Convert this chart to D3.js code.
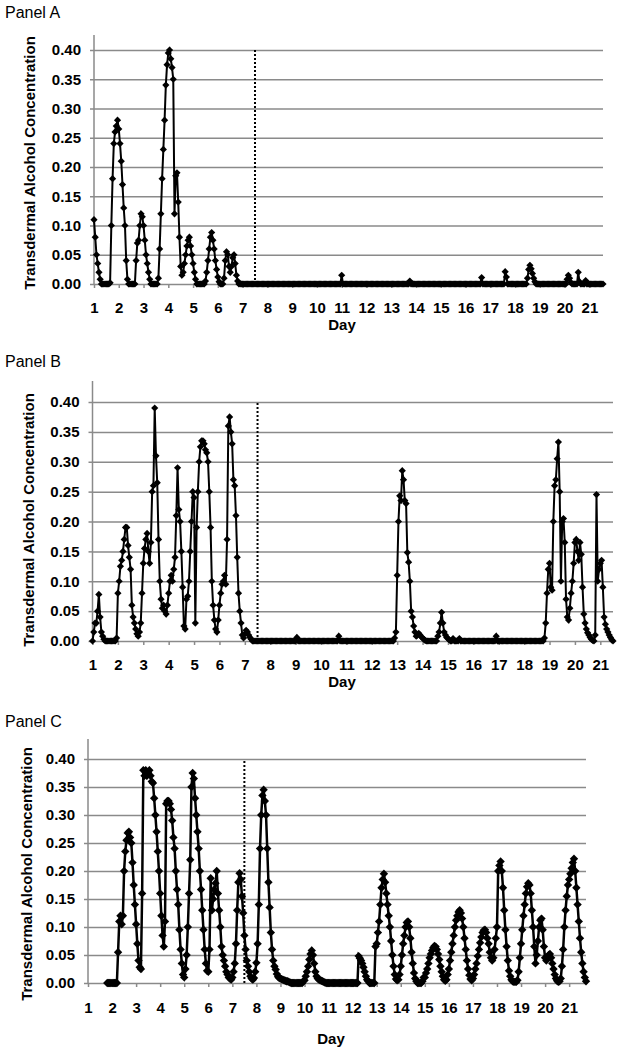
<!DOCTYPE html>
<html>
<head>
<meta charset="utf-8">
<script src="https://cdn.jsdelivr.net/npm/d3@7"></script>
<style>
  body { margin: 0; background: #fff; }
  svg text { font-family: "Liberation Sans", Arial, sans-serif; fill: #000; }
</style>
</head>
<body>
<svg id="chart" width="619" height="1050"></svg>
<script>
// readings every 0.05 day (one line per day), starting at day 1
const firstDay = 1;
const sampleStepDays = 0.05;
const dividerDay = 7.5;

const dayLabels = [1, 2, 3, 4, 5, 6, 7, 8, 9, 10, 11, 12, 13, 14, 15, 16, 17, 18, 19, 20, 21];
const tacTicks = [0, 0.05, 0.10, 0.15, 0.20, 0.25, 0.30, 0.35, 0.40];

const tacPanelA = [
  .11,.08,.05,.035,.02,.008,0,0,0,0,0,0,0,.002,.1,.18,.24,.26,.27,.28,
  .265,.24,.21,.17,.13,.1,.04,.008,0,0,0,0,0,0,.04,.07,.075,.1,.12,.115,
  .1,.075,.05,.035,.02,.008,0,0,0,0,0,0,.01,.06,.12,.18,.23,.28,.34,.375,
  .395,.4,.385,.37,.35,.12,.185,.19,.14,.08,.03,.015,.02,.035,.05,.065,.075,.08,.065,.05,
  .035,.02,.008,0,0,0,0,0,0,0,.005,.02,.04,.06,.08,.088,.075,.06,.04,.025,
  .012,.004,0,0,0,.01,.04,.055,.05,.03,.02,.03,.045,.05,.035,.015,.005,0,0,0,
  0,0,0,0,0,0,0,0,0,0,0,0,0,0,0,0,0,0,0,0,
  0,0,0,0,0,0,0,0,0,0,0,0,0,0,0,0,0,0,0,0,
  0,0,0,0,0,0,0,0,0,0,0,0,0,0,0,0,0,0,0,0,
  0,0,0,0,0,0,0,0,0,0,0,0,0,0,0,0,0,0,0,0,
  .015,0,0,0,0,0,0,0,0,0,0,0,0,0,0,0,0,0,0,0,
  0,0,0,0,0,0,0,0,0,0,0,0,0,0,0,0,0,0,0,0,
  0,0,0,0,0,0,0,0,0,0,0,0,0,0,0,.005,0,0,0,0,
  0,0,0,0,0,0,0,0,0,0,0,0,0,0,0,0,0,0,0,0,
  0,0,0,0,0,0,0,0,0,0,0,0,0,0,0,0,0,0,0,0,
  0,0,0,0,0,0,0,0,0,0,0,0,0,.011,0,0,0,0,0,0,
  0,0,0,0,0,0,0,0,0,0,0,0,.021,.012,0,0,0,0,0,0,
  0,0,0,0,0,0,0,0,0,0,.01,.025,.032,.026,.018,.01,.004,0,0,0,
  0,0,0,0,0,0,0,0,0,0,0,0,0,0,0,0,0,0,0,0,
  0,0,.008,.015,.01,.003,0,0,0,0,0,.02,.004,0,0,0,0,.006,0,0,
  0,0,0,0,0,0,0,0,0,0,0,0
];

const tacPanelB = [
  0,.015,.03,.03,.05,.078,.04,.015,.008,.003,0,0,0,0,0,0,0,0,0,.005,
  .08,.1,.125,.135,.15,.17,.19,.19,.16,.14,.12,.06,.04,.03,.02,.012,.008,.015,.03,.08,
  .13,.155,.17,.18,.15,.13,.165,.25,.26,.39,.31,.265,.17,.1,.07,.055,.06,.05,.045,.06,
  .08,.1,.11,.1,.12,.14,.21,.29,.22,.2,.15,.09,.025,.02,.07,.075,.1,.15,.2,.25,
  .24,.03,.19,.25,.3,.325,.335,.335,.33,.32,.315,.3,.25,.19,.1,.06,.035,.02,.015,.035,
  .06,.08,.095,.1,.11,.095,.17,.36,.375,.35,.33,.27,.26,.21,.14,.08,.05,.03,.01,.005,
  .012,.018,.015,.01,.006,.003,0,0,0,0,0,0,0,0,0,0,0,0,0,0,
  0,0,0,0,0,0,0,0,0,0,0,0,0,0,0,0,0,0,0,0,
  0,.006,0,0,0,0,0,0,0,0,0,0,0,0,0,0,0,0,0,0,
  0,0,0,0,0,0,0,0,0,0,0,0,0,0,.008,0,0,0,0,0,
  0,0,0,0,0,0,0,0,0,0,0,0,0,0,0,0,0,0,0,0,
  0,0,0,0,0,0,0,0,0,0,0,0,0,0,0,0,0,0,.005,.015,
  .11,.2,.243,.235,.285,.27,.235,.23,.148,.132,.1,.05,.04,.025,.015,.008,.01,.013,.01,.007,
  .005,.003,.001,0,0,0,0,0,0,0,0,0,.008,.015,.03,.048,.03,.015,.01,.006,
  .004,.002,0,0,.004,0,0,0,0,.004,0,0,0,0,0,0,0,0,0,0,
  0,0,0,0,0,0,0,0,0,0,0,0,0,0,0,0,0,0,.008,0,
  0,0,0,0,0,0,0,0,0,0,0,0,0,0,0,0,0,0,0,0,
  0,0,0,0,0,0,0,0,0,0,0,0,0,0,0,0,.005,.03,.08,.12,
  .13,.09,.085,.2,.26,.27,.305,.333,.25,.1,.2,.205,.165,.07,.04,.035,.055,.08,.1,.13,
  .165,.17,.15,.135,.165,.145,.09,.045,.03,.02,.014,.01,.006,.003,.001,0,.01,.245,.1,.12,
  .13,.135,.09,.04,.028,.02,.015,.01,.006,.002,0
];

const tacPanelC = [
  null,null,null,null,null,null,null,null,null,null,null,null,null,null,null,null,0,0,0,0,
  0,0,0,0,0,.055,.11,.12,.105,.12,.2,.235,.255,.268,.27,.26,.25,.215,.175,.14,
  .105,.07,.04,.028,.025,.16,.38,.37,.38,.37,.375,.38,.37,.36,.357,.33,.3,.27,.235,.2,
  .16,.12,.085,.065,.11,.32,.325,.325,.32,.31,.29,.26,.24,.2,.167,.14,.095,.06,.035,.015,
  .01,.025,.05,.1,.16,.22,.35,.375,.365,.33,.3,.27,.24,.2,.167,.13,.095,.06,.035,.022,
  .02,.06,.187,.13,.15,.167,.178,.2,.16,.13,.1,.065,.05,.04,.03,.02,.015,.01,.008,.006,
  .01,.02,.035,.07,.13,.18,.196,.185,.155,.125,.085,.06,.04,.03,.02,.012,.008,.006,.009,.02,
  .036,.07,.14,.24,.3,.335,.345,.325,.3,.24,.18,.135,.09,.06,.04,.03,.024,.016,.011,.009,
  .008,.007,.006,.005,.004,.003,.003,.002,.001,0,0,0,0,0,0,0,0,0,0,.003,
  .005,.012,.02,.03,.042,.052,.058,.05,.035,.02,.012,.008,.006,.005,.004,.003,.002,.001,0,0,
  0,0,0,0,0,0,0,0,0,0,0,0,0,0,0,0,0,0,0,0,
  0,0,0,0,0,.048,.044,.04,.035,.028,.02,.012,.006,.003,0,0,0,0,0,.065,
  .07,.09,.11,.14,.17,.185,.195,.18,.16,.14,.12,.1,.075,.05,.03,.015,.007,.005,.006,.015,
  .03,.05,.07,.085,.1,.108,.11,.1,.08,.055,.035,.018,.008,.003,0,0,0,0,.003,.01,
  .01,.018,.025,.035,.045,.052,.058,.063,.066,.065,.06,.052,.042,.03,.02,.012,.006,.004,.006,.015,
  .025,.04,.055,.07,.085,.1,.112,.12,.127,.13,.125,.115,.1,.08,.06,.04,.025,.014,.007,.005,
  .008,.015,.025,.035,.048,.06,.072,.082,.09,.094,.095,.09,.08,.07,.055,.045,.04,.045,.06,.08,
  .1,.2,.21,.217,.2,.17,.13,.095,.065,.04,.022,.012,.006,.003,.002,.002,.002,.005,.02,.045,
  .07,.095,.12,.14,.16,.172,.178,.175,.16,.13,.1,.065,.035,.05,.075,.1,.112,.115,.095,.065,
  .045,.04,.045,.05,.052,.045,.035,.025,.015,.008,.004,.002,.003,.008,.03,.06,.1,.13,.155,.175,
  .185,.195,.205,.215,.222,.2,.17,.14,.11,.08,.055,.035,.02,.01,.003
];

// layout of each panel on the page
const panels = [
  {label: 'Panel A', values: tacPanelA, left: 94, right: 603, top: 50, base: 284, axisTop: 35,
   titleY: 18, yTitleX: 35, yTitleY: 163, dayX: 342, dayY: 330, marker: 3.6, lineW: 2, tickPad: 14},
  {label: 'Panel B', values: tacPanelB, left: 92.5, right: 613, top: 402, base: 641, axisTop: 381,
   titleY: 367, yTitleX: 34, yTitleY: 520, dayX: 342, dayY: 687, marker: 3.6, lineW: 2, tickPad: 14},
  {label: 'Panel C', values: tacPanelC, left: 88, right: 586, top: 759, base: 983, axisTop: 739,
   titleY: 727, yTitleX: 32, yTitleY: 874, dayX: 331, dayY: 1044, marker: 4.2, lineW: 2.5, tickPad: 15}
];

const svg = d3.select('#chart');
const gridColor = '#8a8a8a';

panels.forEach(p => {
  const points = p.values.map((v, i) => ({day: firstDay + i * sampleStepDays, tac: v}));
  const lastDay = points[points.length - 1].day;

  const x = d3.scaleLinear().domain([firstDay, lastDay]).range([p.left, p.right]);
  const y = d3.scaleLinear().domain([0, 0.4]).range([p.base, p.top]);

  const g = svg.append('g');

  // panel title
  g.append('text')
    .attr('x', 5)
    .attr('y', p.titleY)
    .style('font-size', '16px')
    .text(p.label);

  // horizontal gridlines
  g.append('g')
    .attr('transform', `translate(${p.left},0)`)
    .call(d3.axisLeft(y).tickValues(tacTicks).tickSize(-(p.right - p.left)).tickFormat(''))
    .call(a => a.select('.domain').remove())
    .call(a => a.selectAll('line').attr('stroke', gridColor).attr('stroke-width', 1.5));

  // y axis
  const yAxis = g.append('g')
    .attr('transform', `translate(${p.left},0)`)
    .call(d3.axisLeft(y).tickValues(tacTicks).tickFormat(d3.format('.2f')).tickSize(4).tickPadding(9));
  yAxis.select('.domain').remove();
  yAxis.selectAll('line').attr('stroke', gridColor).attr('stroke-width', 1.5);
  yAxis.selectAll('text').style('font-size', '15px').style('font-weight', 'bold');
  g.append('line')
    .attr('x1', p.left).attr('x2', p.left)
    .attr('y1', p.axisTop).attr('y2', p.base)
    .attr('stroke', gridColor).attr('stroke-width', 1.5);

  // x axis
  const xAxis = g.append('g')
    .attr('transform', `translate(0,${p.base})`)
    .call(d3.axisBottom(x).tickValues(dayLabels).tickFormat(d3.format('d')).tickSize(4).tickPadding(p.tickPad));
  xAxis.select('.domain').remove();
  xAxis.selectAll('line').attr('stroke', gridColor).attr('stroke-width', 1.5);
  xAxis.selectAll('text').style('font-size', '15px').style('font-weight', 'bold');

  // axis titles
  g.append('text')
    .attr('transform', `translate(${p.yTitleX},${p.yTitleY}) rotate(-90)`)
    .attr('text-anchor', 'middle')
    .style('font-size', '15px')
    .style('font-weight', 'bold')
    .text('Transdermal Alcohol Concentration');

  g.append('text')
    .attr('x', p.dayX)
    .attr('y', p.dayY)
    .attr('text-anchor', 'middle')
    .style('font-size', '15px')
    .style('font-weight', 'bold')
    .text('Day');

  // week divider
  g.append('line')
    .attr('x1', x(dividerDay)).attr('x2', x(dividerDay))
    .attr('y1', y(0)).attr('y2', y(0.4))
    .attr('stroke', '#000')
    .attr('stroke-width', 2)
    .attr('stroke-dasharray', '2,2');

  // series line
  const line = d3.line()
    .defined(d => d.tac !== null)
    .x(d => x(d.day))
    .y(d => y(d.tac));

  g.append('path')
    .datum(points)
    .attr('fill', 'none')
    .attr('stroke', '#000')
    .attr('stroke-width', p.lineW)
    .attr('d', line);

  // diamond markers
  const r = p.marker;
  g.append('g')
    .selectAll('path')
    .data(points.filter(d => d.tac !== null))
    .join('path')
    .attr('transform', d => `translate(${x(d.day)},${y(d.tac)})`)
    .attr('d', `M0,${-r}L${r},0L0,${r}L${-r},0Z`)
    .attr('fill', '#000');
});
</script>
</body>
</html>
